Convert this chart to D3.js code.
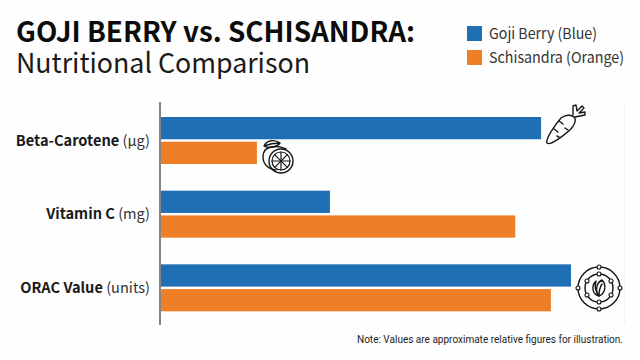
<!DOCTYPE html>
<html>
<head>
<meta charset="utf-8">
<script src="https://cdn.jsdelivr.net/npm/d3@7"></script>
<style>
  html, body { margin: 0; padding: 0; background: #fefefe; }
  svg { display: block; }
  text { font-family: "Noto Sans CJK SC", "Noto Sans", sans-serif; }
</style>
</head>
<body>
<div id="chart"></div>
<script>
var categories = ["Beta-Carotene", "Vitamin C", "ORAC Value"];
var units = ["(µg)", "(mg)", "(units)"];
var seriesNames = ["Goji Berry (Blue)", "Schisandra (Orange)"];
var gojiValues = [92.7, 41.2, 100];
var schisandraValues = [23.4, 86.4, 95.1];
var seriesColors = ["#1f6fb5", "#ef7f27"];

var w = 640, h = 360;
var svg = d3.select("#chart").append("svg").attr("width", w).attr("height", h);

// scales
var y = d3.scaleBand().domain(categories).range([104, 325]).paddingInner(0.0);
var x = d3.scaleLinear().domain([0, 100]).range([161, 571]);
var inner = d3.scaleBand().domain([0, 1]).range([13, 60]).paddingInner(0.1);

// title
svg.append("text").attr("x", 16).attr("y", 42)
  .attr("font-size", 27.5).attr("font-weight", 700).attr("fill", "#0c0c0c")
  .attr("textLength", 399).attr("lengthAdjust", "spacingAndGlyphs")
  .text("GOJI BERRY vs. SCHISANDRA:");
svg.append("text").attr("x", 16).attr("y", 73)
  .attr("font-size", 27.5).attr("font-weight", 400).attr("fill", "#1a1a1a")
  .attr("textLength", 294).attr("lengthAdjust", "spacingAndGlyphs")
  .text("Nutritional Comparison");

// legend
var legend = svg.append("g");
var legendWidths = [108, 135];
seriesNames.forEach(function (name, i) {
  legend.append("rect").attr("x", 467).attr("y", 26 + i * 24)
    .attr("width", 15).attr("height", 15).attr("fill", seriesColors[i]);
  legend.append("text").attr("x", 489).attr("y", 39 + i * 24)
    .attr("font-size", 15).attr("fill", "#333")
    .attr("textLength", legendWidths[i]).attr("lengthAdjust", "spacingAndGlyphs")
    .text(name);
});

// bars
[gojiValues, schisandraValues].forEach(function (vals, s) {
  svg.append("g").selectAll("rect")
    .data(vals)
    .enter()
    .append("rect")
    .attr("x", x(0))
    .attr("y", function (d, i) { return y(categories[i]) + inner(s); })
    .attr("width", function (d) { return x(d) - x(0); })
    .attr("height", inner.bandwidth())
    .attr("fill", seriesColors[s]);
});

// axis line and the category labels
var axis = d3.axisLeft(y).tickSize(0).tickPadding(10);
var gAxis = svg.append("g").attr("transform", "translate(160,0)").call(axis);
gAxis.select(".domain").remove();
svg.append("line").attr("x1", 160).attr("x2", 160).attr("y1", 102).attr("y2", 325)
  .attr("stroke", "#333").attr("stroke-width", 1.2);
svg.append("line").attr("x1", 624.5).attr("x2", 624.5).attr("y1", 102).attr("y2", 325)
  .attr("stroke", "#f2f2f2").attr("stroke-width", 1);

gAxis.selectAll(".tick text").each(function (d, i) {
  var t = d3.select(this).text(null)
    .attr("font-family", '"Noto Sans CJK SC", sans-serif')
    .attr("font-size", 14.6).attr("fill", "#1a1a1a")
    .attr("dy", "0.32em");
  t.append("tspan").attr("font-weight", 700).text(d);
  t.append("tspan").attr("font-weight", 400).attr("fill", "#333").text(" " + units[i]);
});

// icons, line art
var ink = "#161616";
function icon(px, py) {
  return svg.append("g").attr("transform", "translate(" + px + "," + py + ")")
    .attr("fill", "none").attr("stroke", ink).attr("stroke-width", 1.4)
    .attr("stroke-linecap", "round").attr("stroke-linejoin", "round");
}

// carrot
var carrot = icon(565, 123);
carrot.append("path").attr("d", "M-18 20 C-20 17 -11 3 -4 -5 C0 -8 6 -9 9 -6 C12 -3 9 3 5 7 C-2 13 -15 23 -18 20 Z");
carrot.append("path").attr("d", "M-6 -2 L-2 1 M-11 6 L-7 9 M0 5 L3 7 M-8 13 L-6 14");
carrot.append("path").attr("d", "M8 -8 L8 -17 L11 -18 L12 -12 L17 -17 L19 -15 L14 -10 L20 -11 L20 -8 L10 -6");

// lemon with slice
var citrus = icon(277, 154);
citrus.append("path").attr("d", "M-1 16 C-9 15 -14 10 -14 3 C-14 -2 -11 -6 -6 -7 C-1 -8 5 -7 9 -5");
citrus.append("path").attr("d", "M-13 -8 C-10 -14 -2 -15 3 -11 C0 -7 -8 -5 -13 -8 Z M-13 -8 C-8 -10 -3 -11 3 -11");
citrus.append("circle").attr("cx", 4).attr("cy", 7).attr("r", 12);
citrus.append("circle").attr("cx", 4).attr("cy", 7).attr("r", 9).attr("stroke-width", 1.2);
d3.range(0, 180, 45).forEach(function (a) {
  var r = a * Math.PI / 180;
  citrus.append("line")
    .attr("x1", 4 - 9 * Math.cos(r)).attr("y1", 7 - 9 * Math.sin(r))
    .attr("x2", 4 + 9 * Math.cos(r)).attr("y2", 7 + 9 * Math.sin(r))
    .attr("stroke-width", 1.2);
});

// antioxidant rings with a leaf
var orac = icon(599, 288);
orac.append("circle").attr("r", 21);
orac.append("circle").attr("r", 14);
orac.append("path").attr("d", "M0 8 C-7 6 -8 -2 -3 -7 C-5 -1 -3 4 0 8 Z");
orac.append("path").attr("d", "M0 8 C6 6 8 -3 3 -8 C-3 -5 -4 3 0 8 Z M0 8 C0 3 1 -1 3 -4");
[[0, -21], [-21, 0], [21, 0], [0, 21], [-12, 7], [12, 7], [-12, -7], [12, -7], [0, -14], [0, 14]].forEach(function (p) {
  orac.append("circle").attr("cx", p[0]).attr("cy", p[1]).attr("r", 2).attr("fill", "#fefefe").attr("stroke-width", 1.1);
});

// note
svg.append("text").attr("x", 357).attr("y", 343)
  .attr("font-size", 10.6)
  .style("font-family", "Roboto, sans-serif").attr("fill", "#222")
  .attr("textLength", 266).attr("lengthAdjust", "spacingAndGlyphs")
  .text("Note: Values are approximate relative figures for illustration.");
</script>
</body>
</html>
